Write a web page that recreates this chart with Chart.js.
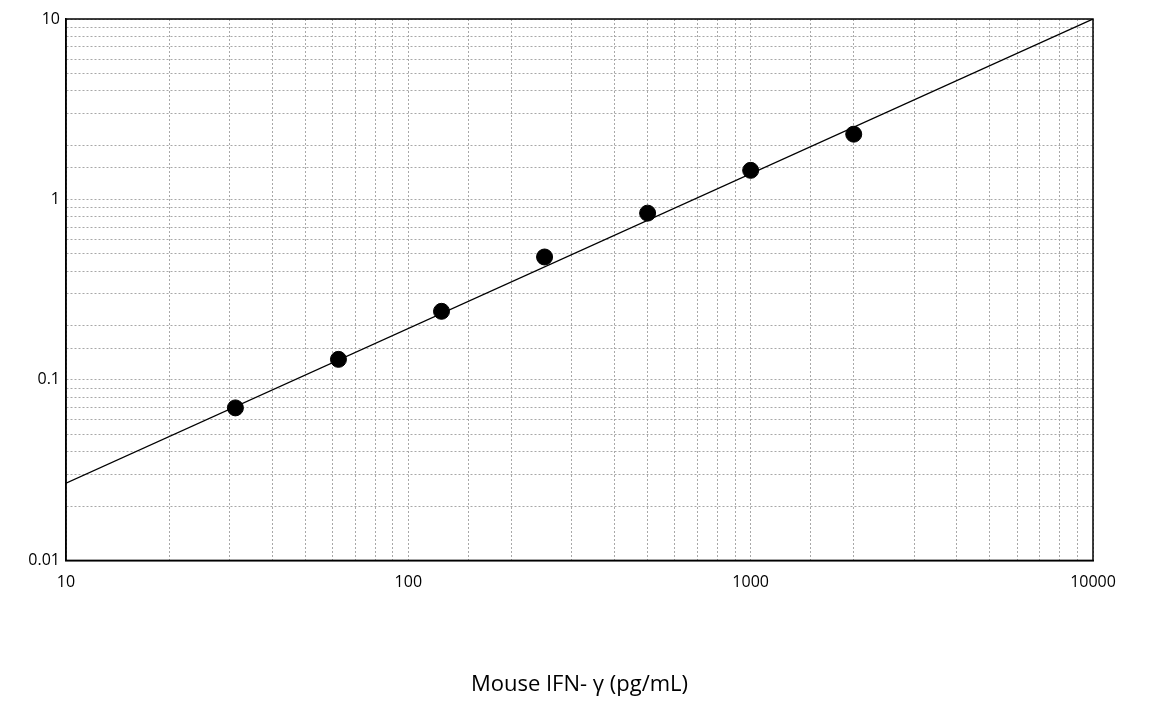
<!DOCTYPE html>
<html>
<head>
<meta charset="utf-8">
<script src="https://cdn.jsdelivr.net/npm/chart.js@4"></script>
<style>
  html, body { margin: 0; padding: 0; background: #fff; }
  #wrap { width: 1162px; height: 724px; }
</style>
</head>
<body>
<div id="wrap"><canvas id="c"></canvas></div>
<script>
// Standard curve, log-log
const concentrations = [31.25, 62.5, 125, 250, 500, 1000, 2000];
const odValues = [0.07, 0.13, 0.24, 0.48, 0.84, 1.45, 2.3];
// fitted line endpoints
const fitX = [10, 10000];
const fitY = [0.0268, 10];

const frame = {
  id: 'frame',
  afterDraw(chart) {
    const a = chart.chartArea, ctx = chart.ctx;
    ctx.save();
    ctx.strokeStyle = '#000';
    ctx.lineWidth = 1.5;
    ctx.strokeRect(a.left, a.top, a.right - a.left, a.bottom - a.top);
    ctx.restore();
  }
};

const isPow10 = v => Math.abs(Math.log10(v) - Math.round(Math.log10(v))) < 1e-9;

new Chart(document.getElementById('c'), {
  type: 'scatter',
  data: {
    datasets: [
      {
        label: 'Fit',
        data: fitX.map((x, i) => ({ x, y: fitY[i] })),
        showLine: true,
        borderColor: '#000',
        borderWidth: 1.3,
        pointRadius: 0
      },
      {
        label: 'Standards',
        data: concentrations.map((x, i) => ({ x, y: odValues[i] })),
        backgroundColor: '#000',
        borderColor: '#000',
        pointRadius: 8
      }
    ]
  },
  options: {
    responsive: true,
    maintainAspectRatio: false,
    animation: false,
    layout: { padding: { left: 4, right: 69, top: 19, bottom: 22 } },
    plugins: { legend: { display: false }, tooltip: { enabled: false } },
    scales: {
      x: {
        type: 'logarithmic',
        min: 10,
        max: 10000,
        grid: { color: '#a8a8a8', lineWidth: 1, drawTicks: false },
        border: { color: '#000', width: 1.5, dash: [2, 2] },
        ticks: {
          autoSkip: false,
          maxRotation: 0,
          padding: 12,
          color: '#000',
          font: { family: 'Open Sans', size: 16 },
          callback: v => isPow10(v) ? String(v) : ''
        },
        title: {
          display: true,
          text: 'Mouse IFN- \u03b3 (pg/mL)',
          color: '#000',
          font: { family: 'Open Sans', size: 22 },
          padding: { top: 68 }
        }
      },
      y: {
        type: 'logarithmic',
        min: 0.01,
        max: 10,
        afterFit: s => { s.width = 62; },
        grid: { color: '#a8a8a8', lineWidth: 1, drawTicks: false },
        border: { color: '#000', width: 1.5, dash: [2, 2] },
        ticks: {
          autoSkip: false,
          padding: 6,
          color: '#000',
          font: { family: 'Open Sans', size: 16 },
          callback: v => isPow10(v) ? String(v) : ''
        }
      }
    }
  },
  plugins: [frame]
});
</script>
</body>
</html>
